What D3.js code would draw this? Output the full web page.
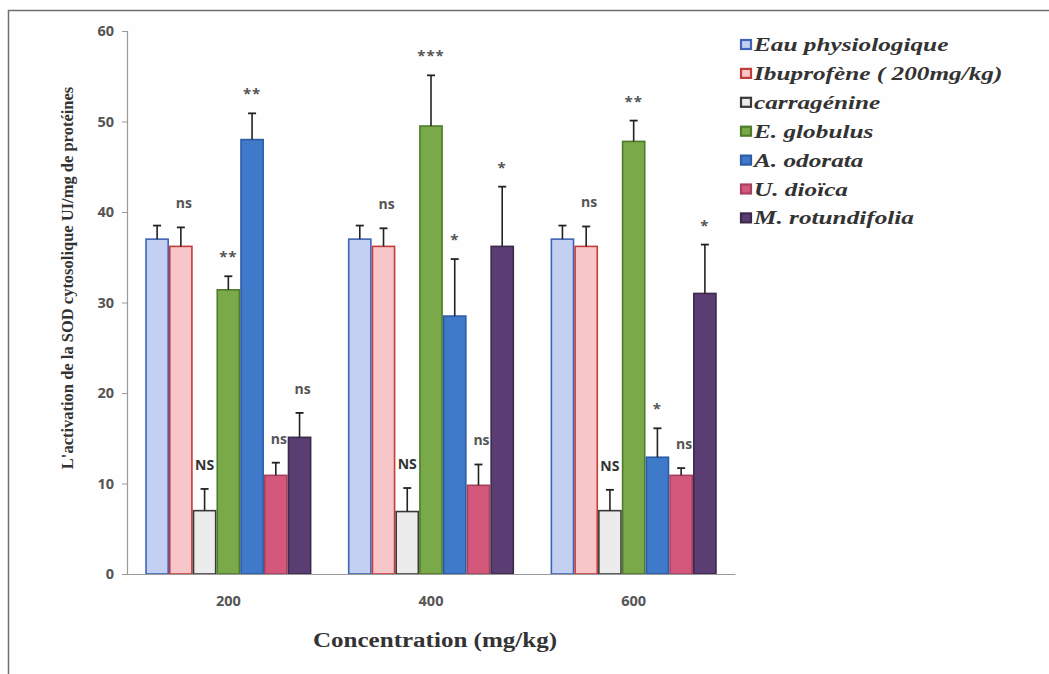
<!DOCTYPE html>
<html>
<head>
<meta charset="utf-8">
<script src="https://cdn.jsdelivr.net/npm/d3@7"></script>
<style>
  body { margin: 0; background: #fff; }
  svg { display: block; }
</style>
</head>
<body>
<svg width="1049" height="674"></svg>
<script>
// data
var groups = ["200", "400", "600"];
var series = ["Eau physiologique", "Ibuprofène ( 200mg/kg)", "carragénine",
  "E. globulus", "A. odorata", "U. dioïca", "M. rotundifolia"];

var eau = [37.0, 37.0, 37.0];
var ibuprofene = [36.2, 36.2, 36.2];
var carragenine = [7.0, 6.9, 7.0];
var globulus = [31.4, 49.5, 47.8];
var odorata = [48.0, 28.5, 12.9];
var dioica = [10.9, 9.8, 10.9];
var rotundifolia = [15.1, 36.2, 31.0];

var errEau = [1.5, 1.5, 1.5];
var errIbuprofene = [2.1, 2.0, 2.2];
var errCarragenine = [2.4, 2.6, 2.3];
var errGlobulus = [1.5, 5.6, 2.3];
var errOdorata = [2.9, 6.3, 3.2];
var errDioica = [1.4, 2.3, 0.8];
var errRotundifolia = [2.7, 6.6, 5.4];

var signif200 = ["", "ns", "NS", "**", "**", "ns", "ns"];
var signif400 = ["", "ns", "NS", "***", "*", "ns", "*"];
var signif600 = ["", "ns", "NS", "**", "*", "ns", "*"];

var yTicks = [0, 10, 20, 30, 40, 50, 60];

var values = [eau, ibuprofene, carragenine, globulus, odorata, dioica, rotundifolia];
var errors = [errEau, errIbuprofene, errCarragenine, errGlobulus, errOdorata, errDioica, errRotundifolia];
var signif = [signif200, signif400, signif600];

var fills = ["#c3d0f1", "#f6c6c8", "#ececec", "#79a948", "#3f79c9", "#d4587c", "#5a3d72"];
var strokes = ["#3f63b5", "#c33b3b", "#3a3a3a", "#4f7b2a", "#2b5ca6", "#a8405f", "#3c2a4d"];

var svg = d3.select("svg");

// outer frame
svg.append("rect")
  .attr("x", 8.5).attr("y", 10.5)
  .attr("width", 1100).attr("height", 700)
  .attr("fill", "#fefefe")
  .attr("stroke", "#6f6f6f")
  .attr("stroke-width", 1.5);

var x0 = d3.scaleBand()
  .domain(groups)
  .range([127, 735])
  .paddingInner(0.18)
  .paddingOuter(0.09);

var x1 = d3.scaleBand()
  .domain(d3.range(series.length))
  .range([0, x0.bandwidth()]);

var y = d3.scaleLinear()
  .domain([0, 60])
  .range([574, 31]);

// y axis
var yAxis = svg.append("g")
  .attr("transform", "translate(127,0)")
  .call(d3.axisLeft(y).tickValues(yTicks).tickSize(5).tickPadding(8));
yAxis.select(".domain").attr("stroke", "#9a9a9a").attr("stroke-width", 1.2);
yAxis.selectAll(".tick line").attr("stroke", "#9a9a9a");
yAxis.selectAll(".tick text")
  .attr("fill", "#555")
  .style("font-family", "'Open Sans', 'DejaVu Sans', sans-serif")
  .style("font-weight", "bold")
  .style("font-size", "14.5px");

// bars
var barData = [];
groups.forEach(function (g, gi) {
  series.forEach(function (s, si) {
    barData.push({g: g, gi: gi, si: si, v: values[si][gi], e: errors[si][gi], label: signif[gi][si]});
  });
});

var bars = svg.append("g").attr("class", "bars")
  .selectAll("g")
  .data(barData)
  .enter().append("g")
  .attr("transform", function (d) {
    return "translate(" + (x0(d.g) + x1(d.si)) + ",0)";
  });

bars.append("rect")
  .attr("x", 0.8)
  .attr("y", function (d) { return y(d.v); })
  .attr("width", x1.bandwidth() - 1.6)
  .attr("height", function (d) { return y(0) - y(d.v); })
  .attr("fill", function (d) { return fills[d.si]; })
  .attr("stroke", function (d) { return strokes[d.si]; })
  .attr("stroke-width", 1.6);

// error bars (upper half only)
var cx = x1.bandwidth() / 2;
bars.append("line")
  .attr("x1", cx).attr("x2", cx)
  .attr("y1", function (d) { return y(d.v); })
  .attr("y2", function (d) { return y(d.v + d.e); })
  .attr("stroke", "#222").attr("stroke-width", 1.6);
bars.append("line")
  .attr("x1", cx - 4).attr("x2", cx + 4)
  .attr("y1", function (d) { return y(d.v + d.e); })
  .attr("y2", function (d) { return y(d.v + d.e); })
  .attr("stroke", "#222").attr("stroke-width", 1.8);

// significance marks
bars.filter(function (d) { return d.label; })
  .append("text")
  .attr("x", function (d) { return d.label === "ns" ? cx + 3 : cx; })
  .attr("y", function (d) {
    var isStar = d.label.indexOf("*") === 0;
    return y(d.v + d.e) - (isStar ? 14 : 19);
  })
  .attr("text-anchor", "middle")
  .attr("fill", function (d) { return d.label === "NS" ? "#333" : "#555"; })
  .style("font-family", "'Open Sans', 'DejaVu Sans', sans-serif")
  .style("font-weight", "bold")
  .style("font-size", function (d) { return d.label.indexOf("*") === 0 ? "15px" : "14px"; })
  .style("letter-spacing", function (d) { return d.label.indexOf("*") === 0 ? "1px" : "0px"; })
  .text(function (d) { return d.label; });

// x axis
var xAxis = svg.append("g")
  .attr("transform", "translate(0,574)")
  .call(d3.axisBottom(x0).tickSize(0).tickPadding(22));
xAxis.select(".domain").attr("stroke", "#9a9a9a").attr("stroke-width", 1.2);
xAxis.selectAll(".tick text")
  .attr("fill", "#555")
  .style("font-family", "'Open Sans', 'DejaVu Sans', sans-serif")
  .style("font-weight", "bold")
  .style("font-size", "14.5px");

// axis titles
svg.append("text")
  .attr("x", 435).attr("y", 647)
  .attr("text-anchor", "middle")
  .attr("fill", "#333")
  .attr("textLength", 244)
  .attr("lengthAdjust", "spacingAndGlyphs")
  .style("font-family", "'Liberation Serif', 'Times New Roman', serif")
  .style("font-weight", "bold")
  .style("font-size", "20px")
  .text("Concentration (mg/kg)");

svg.append("text")
  .attr("transform", "translate(73,278) rotate(-90)")
  .attr("text-anchor", "middle")
  .attr("fill", "#333")
  .style("font-family", "'Liberation Serif', 'Times New Roman', serif")
  .style("font-weight", "bold")
  .style("font-size", "16.5px")
  .text("L'activation de la SOD cytosolique UI/mg  de protéines");

// legend
var legend = svg.append("g").attr("class", "legend")
  .selectAll("g")
  .data(series)
  .enter().append("g")
  .attr("transform", function (d, i) {
    return "translate(741," + (51 + i * 28.9) + ")";
  });

legend.append("rect")
  .attr("x", 0).attr("y", -11)
  .attr("width", 10).attr("height", 9)
  .attr("fill", function (d, i) { return fills[i]; })
  .attr("stroke", function (d, i) { return strokes[i]; })
  .attr("stroke-width", 2.2);

legend.append("text")
  .attr("transform", "translate(13,0) scale(1.33,1)")
  .attr("fill", "#333")
  .style("font-family", "'Liberation Serif', 'Times New Roman', serif")
  .style("font-weight", "bold")
  .style("font-style", "italic")
  .style("font-size", "19px")
  .text(function (d) { return d; });
</script>
</body>
</html>
